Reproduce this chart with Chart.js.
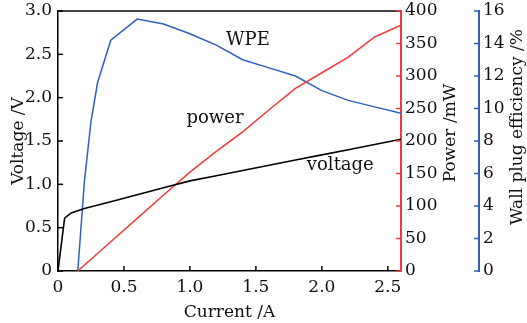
<!DOCTYPE html>
<html>
<head>
<meta charset="utf-8">
<script src="https://cdn.jsdelivr.net/npm/chart.js@4"></script>
<style>
  html, body { margin: 0; padding: 0; background: #fff; }
  #wrap { width: 527px; height: 323px; }
</style>
</head>
<body>
<div id="wrap"><canvas id="lineChart" width="527" height="323"></canvas></div>
<script>
// values
var voltageCurrent = [0, 0.05, 0.1, 0.2, 0.4, 0.6, 0.8, 1.0, 1.2, 1.4, 1.6, 1.8, 2.0, 2.2, 2.4, 2.6];
var voltageValues  = [0, 0.61, 0.67, 0.72, 0.80, 0.88, 0.96, 1.04, 1.10, 1.16, 1.22, 1.28, 1.34, 1.40, 1.46, 1.52];

var powerCurrent = [0.15, 0.4, 0.6, 0.8, 1.0, 1.2, 1.4, 1.6, 1.8, 2.0, 2.2, 2.4, 2.6];
var powerValues  = [0, 45, 81, 117, 152, 184, 214, 248, 281, 305, 329, 360, 378];

var wpeCurrent = [0.15, 0.2, 0.25, 0.3, 0.4, 0.6, 0.8, 1.0, 1.2, 1.4, 1.6, 1.8, 2.0, 2.2, 2.4, 2.6];
var wpeValues  = [0, 5.5, 9.2, 11.6, 14.2, 15.5, 15.2, 14.6, 13.9, 13.0, 12.5, 12.0, 11.1, 10.5, 10.1, 9.7];

var currentTicks = [0, 0.5, 1.0, 1.5, 2.0, 2.5];
var voltageTicks = [0, 0.5, 1.0, 1.5, 2.0, 2.5, 3.0];
var powerTicks = [0, 50, 100, 150, 200, 250, 300, 350, 400];
var wpeTicks = [0, 2, 4, 6, 8, 10, 12, 14, 16];

var seriesNames = ["WPE", "power", "voltage"];

var RED = '#f23a3a';
var BLUE = '#2f5fbf';
var FONT = "'DejaVu Serif', serif";

function pairs(xs, ys) {
	return xs.map(function(x, i) { return { x: x, y: ys[i] }; });
}

function fixedTicks(list) {
	return function(scale) {
		scale.ticks = list.map(function(v) { return { value: v }; });
	};
}

function fitWidth(w) {
	return function(s) { s.width = w; s.paddingTop = 0; s.paddingBottom = 0; };
}

// inward tick marks, top frame line, rotated right titles, curve labels
var decor = {
	id: 'decor',
	afterDraw: function(chart) {
		var c = chart.ctx, a = chart.chartArea, s = chart.scales;
		c.save();
		// top frame
		c.strokeStyle = '#444';
		c.lineWidth = 2;
		c.beginPath(); c.moveTo(a.left, a.top); c.lineTo(a.right, a.top); c.stroke();
		c.lineWidth = 1.5;
		var L = 5;
		c.strokeStyle = '#000';
		s.x.ticks.forEach(function(t) {
			var p = s.x.getPixelForValue(t.value);
			c.beginPath(); c.moveTo(p, a.bottom); c.lineTo(p, a.bottom - L); c.stroke();
		});
		s.y.ticks.forEach(function(t) {
			var p = s.y.getPixelForValue(t.value);
			c.beginPath(); c.moveTo(a.left, p); c.lineTo(a.left + L, p); c.stroke();
		});
		c.strokeStyle = RED;
		s.y1.ticks.forEach(function(t) {
			var p = s.y1.getPixelForValue(t.value);
			c.beginPath(); c.moveTo(s.y1.left, p); c.lineTo(s.y1.left - L, p); c.stroke();
		});
		c.strokeStyle = BLUE;
		s.y2.ticks.forEach(function(t) {
			var p = s.y2.getPixelForValue(t.value);
			c.beginPath(); c.moveTo(s.y2.left, p); c.lineTo(s.y2.left - L, p); c.stroke();
		});

		// right titles, reading bottom to top
		c.fillStyle = '#111';
		c.font = '17px ' + FONT;
		c.textAlign = 'center';
		c.textBaseline = 'middle';
		var mid = (a.top + a.bottom) / 2;
		c.save(); c.translate(s.y1.left + 50, mid - 8); c.rotate(-Math.PI / 2);
		c.fillText('Power /mW', 0, 0); c.restore();
		c.save(); c.translate(s.y2.left + 39, mid - 14); c.rotate(-Math.PI / 2);
		c.fillText('Wall plug efficiency /%', 0, 0); c.restore();

		// curve names
		c.font = '18px ' + FONT;
		c.fillText(seriesNames[0], s.x.getPixelForValue(1.44), s.y.getPixelForValue(2.66));
		c.fillText(seriesNames[1], s.x.getPixelForValue(1.19), s.y.getPixelForValue(1.76));
		c.fillText(seriesNames[2], s.x.getPixelForValue(2.14), s.y.getPixelForValue(1.22));
		c.restore();
	}
};

var ctxL = document.getElementById('lineChart').getContext('2d');
var myLineChart = new Chart(ctxL, {
	type: 'line',
	data: {
		datasets: [{
			label: 'voltage',
			data: pairs(voltageCurrent, voltageValues),
			borderColor: '#000',
			borderWidth: 1.6,
			pointRadius: 0,
			tension: 0,
			yAxisID: 'y'
		}, {
			label: 'power',
			data: pairs(powerCurrent, powerValues),
			borderColor: RED,
			borderWidth: 1.5,
			pointRadius: 0,
			tension: 0,
			yAxisID: 'y1'
		}, {
			label: 'WPE',
			data: pairs(wpeCurrent, wpeValues),
			borderColor: BLUE,
			borderWidth: 1.5,
			pointRadius: 0,
			tension: 0,
			yAxisID: 'y2'
		}]
	},
	options: {
		responsive: false,
		animation: false,
		layout: { padding: { top: 11, left: 0, right: 0, bottom: 0 } },
		plugins: {
			legend: { display: false },
			tooltip: { enabled: false }
		},
		scales: {
			x: {
				type: 'linear',
				min: 0, max: 2.6,
				grid: { display: false, drawTicks: false },
				border: { color: '#000', width: 1.5 },
				afterBuildTicks: fixedTicks(currentTicks),
				afterFit: function(s) { s.height = 52; s.paddingLeft = 0; s.paddingRight = 0; },
				ticks: {
					color: '#111', padding: 6,
					font: { family: FONT, size: 17 },
					maxRotation: 0,
					callback: function(v) { return v === 0 ? '0' : v.toFixed(1); }
				},
				title: {
					display: true, text: 'Current /A', color: '#111',
					font: { family: FONT, size: 17 }, padding: { top: 1, bottom: 0 }
				}
			},
			y: {
				position: 'left',
				min: 0, max: 3.0,
				grid: { display: false, drawTicks: false },
				border: { color: '#000', width: 1.5 },
				afterBuildTicks: fixedTicks(voltageTicks),
				afterFit: fitWidth(58),
				ticks: {
					color: '#111', padding: 6,
					font: { family: FONT, size: 17 },
					callback: function(v) { return v === 0 ? '0' : v.toFixed(1); }
				},
				title: {
					display: true, text: 'Voltage /V', color: '#111',
					font: { family: FONT, size: 17 }, padding: { top: 8, bottom: 0 }
				}
			},
			y1: {
				position: 'right',
				min: 0, max: 400,
				grid: { display: false, drawTicks: false },
				border: { color: RED, width: 2 },
				afterBuildTicks: fixedTicks(powerTicks),
				afterFit: fitWidth(78),
				ticks: {
					color: '#111', padding: 4,
					font: { family: FONT, size: 17 }
				}
			},
			y2: {
				position: 'right',
				min: 0, max: 16,
				grid: { display: false, drawTicks: false },
				border: { color: BLUE, width: 2 },
				afterBuildTicks: fixedTicks(wpeTicks),
				afterFit: fitWidth(48),
				ticks: {
					color: '#111', padding: 4,
					font: { family: FONT, size: 17 }
				}
			}
		}
	},
	plugins: [decor]
});
</script>
</body>
</html>
